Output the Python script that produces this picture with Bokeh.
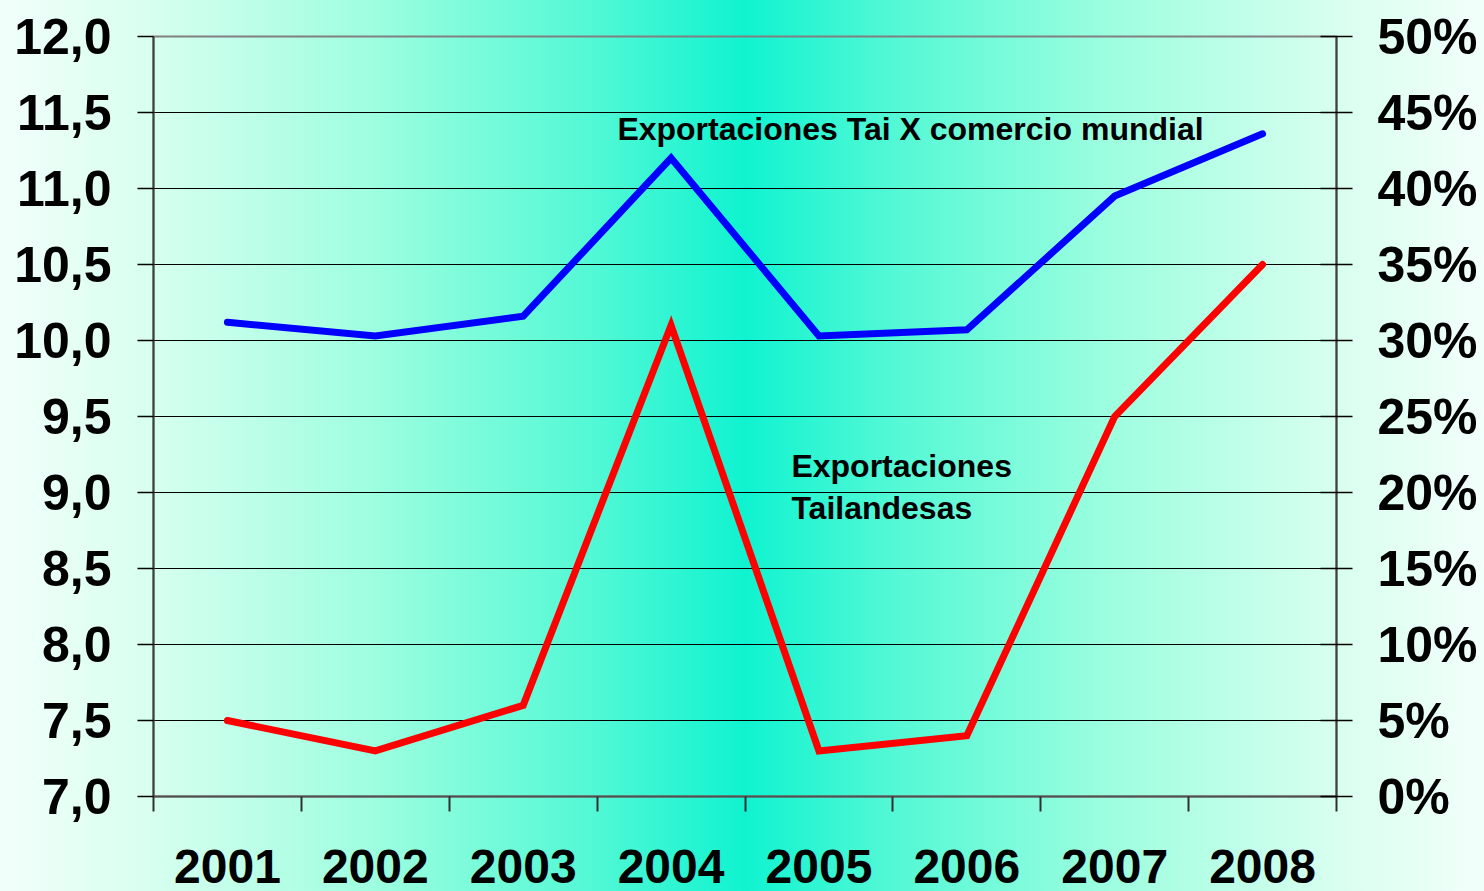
from bokeh.plotting import figure
from bokeh.models import Range1d, LinearAxis, FixedTicker, Label
from bokeh.embed import file_html
from bokeh.resources import INLINE

years = ["2001", "2002", "2003", "2004", "2005", "2006", "2007", "2008"]
share_world = [10.12, 10.03, 10.16, 11.20, 10.03, 10.07, 10.95, 11.36]   # left axis
growth_pct = [5, 3, 6, 31, 3, 4, 25, 35]                                  # right axis (%)
left_ticks = [7.0, 7.5, 8.0, 8.5, 9.0, 9.5, 10.0, 10.5, 11.0, 11.5, 12.0]
right_ticks = [0, 5, 10, 15, 20, 25, 30, 35, 40, 45, 50]

xs = [i + 0.5 for i in range(len(years))]
FONT = "Liberation Sans"

p = figure(width=1476, height=883, output_backend="svg", toolbar_location=None,
           x_range=Range1d(0, len(years)), y_range=Range1d(7, 12),
           min_border_left=145, min_border_right=148, min_border_top=28, min_border_bottom=95)
p.background_fill_color = None
p.border_fill_color = None
p.outline_line_color = "#808080"
p.outline_line_width = 2

p.extra_y_ranges = {"pct": Range1d(0, 50)}

# grid
p.xgrid.visible = False
p.ygrid.ticker = FixedTicker(ticks=left_ticks)
p.ygrid.grid_line_color = "black"
p.ygrid.grid_line_width = 1

# x axis
xa = p.xaxis[0]
xa.ticker = FixedTicker(ticks=xs, minor_ticks=list(range(len(years) + 1)))
xa.major_label_overrides = {x: y for x, y in zip(xs, years)}
xa.major_tick_out = 0
xa.major_tick_in = 0
xa.minor_tick_out = 15
xa.minor_tick_in = 0
xa.minor_tick_line_color = "#303030"
xa.minor_tick_line_width = 2
xa.axis_line_color = "#505050"
xa.axis_line_width = 2
xa.major_label_standoff = 38
xa.major_label_text_font = FONT
xa.major_label_text_font_style = "bold"
xa.major_label_text_font_size = "48px"
xa.major_label_text_color = "black"

# left axis
ya = p.yaxis[0]
ya.ticker = FixedTicker(ticks=left_ticks)
ya.major_label_overrides = {t: f"{t:.1f}".replace(".", ",") for t in left_ticks}
ya.minor_tick_line_color = None
ya.major_tick_out = 16
ya.major_tick_in = 0
ya.major_tick_line_color = "black"
ya.major_tick_line_width = 1.5
ya.axis_line_color = "#404040"
ya.axis_line_width = 2
ya.major_label_standoff = 26
ya.major_label_text_font = FONT
ya.major_label_text_font_style = "bold"
ya.major_label_text_font_size = "50px"
ya.major_label_text_color = "black"

# right axis
ra = LinearAxis(y_range_name="pct", ticker=FixedTicker(ticks=right_ticks))
ra.major_label_overrides = {t: f"{t}%" for t in right_ticks}
ra.minor_tick_line_color = None
ra.major_tick_out = 16
ra.major_tick_in = 16
ra.major_tick_line_color = "black"
ra.major_tick_line_width = 1.5
ra.axis_line_color = "#404040"
ra.axis_line_width = 2
ra.major_label_standoff = 25
ra.major_label_text_font = FONT
ra.major_label_text_font_style = "bold"
ra.major_label_text_font_size = "50px"
ra.major_label_text_color = "black"
p.add_layout(ra, "right")

# lines
p.line(xs, share_world, line_color="#0000FF", line_width=7, line_cap="round", line_join="miter")
p.line(xs, growth_pct, y_range_name="pct", line_color="#FF0000", line_width=7,
       line_cap="round", line_join="miter")

# annotations
for txt, x, y in [("Exportaciones Tai X comercio mundial", 3.137, 11.39),
                  ("Exportaciones", 4.314, 9.175),
                  ("Tailandesas", 4.314, 8.899)]:
    p.add_layout(Label(x=x, y=y, text=txt, text_font=FONT, text_font_style="bold",
                       text_font_size="32px", text_color="black", text_baseline="alphabetic"))

html = file_html(p, INLINE)
style = ("<style>html{height:100%;background:linear-gradient(to right,"
         "#F2FFFA 0%,#D8FFF0 10%,#9EFEDF 25%,#52F8D5 40%,#10F3D0 50.2%,"
         "#52F8D5 60%,#9EFEDF 75%,#D8FFF0 90%,#F2FFFA 100%);}"
         "body{margin:8px;overflow:hidden;background:transparent;}</style>")
html = html.replace("</head>", style + "</head>", 1)
open("out.html", "w").write(html)
